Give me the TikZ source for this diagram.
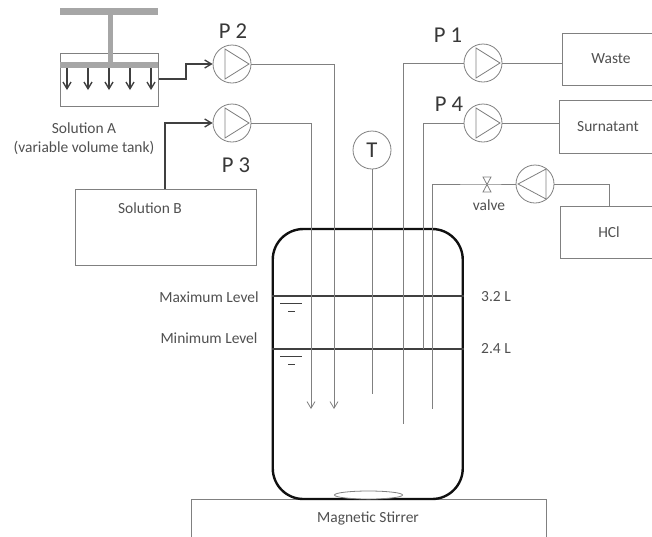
\documentclass[tikz,border=0pt]{standalone}
\usepackage{fontspec}
\setmainfont{Carlito}
\usetikzlibrary{arrows.meta, calc}
\tikzset{
  pipe/.style={draw=tubo, line width=0.6pt},
  feed/.style={draw=linha, line width=1pt},
  pump/.style={circle, draw=tubo, line width=0.6pt, fill=white, minimum size=28.5pt, inner sep=0pt},
  boxnode/.style={rectangle, draw=tubo, line width=0.6pt, inner sep=0pt},
  lbl/.style={text=texto, font=\fontsize{11.6}{13}\selectfont, inner sep=0pt},
  pumplbl/.style={text=texto!70!black, font=\fontsize{17}{19}\selectfont, inner sep=0pt},
  >={Straight Barb[length=5pt, width=6pt]}
}
\begin{document}
\begin{tikzpicture}[x=0.75pt, y=-0.75pt]
% --- CORES ---
\definecolor{tubo}{HTML}{808080}
\definecolor{linha}{HTML}{404040}
\definecolor{barra}{HTML}{A6A6A6}
\definecolor{texto}{HTML}{505050}
\definecolor{vaso}{HTML}{101010}
\useasboundingbox (0,0) rectangle (652,536);
\clip (0,0) rectangle (652,536);

% LAYER 1: Tanque A com embolo
\node[boxnode, minimum width=73.9pt, minimum height=39.75pt] (tankA) at (109.2,79.5) {};
\fill[barra] (60,8) rectangle (158,15);
\fill[barra] (107.5,15) rectangle (112.5,62);
\fill[barra] (60,62) rectangle (158,68);
\foreach \x in {67,88,109,130,151}
  \draw[feed, ->] (\x,68) -- (\x,90);

% LAYER 2: Caixas
\node[boxnode, minimum width=135.75pt, minimum height=57pt] (tankB) at (165.5,227) {};
\node[boxnode, minimum width=75pt, minimum height=39pt] (waste) at (612,59) {};
\node[boxnode, minimum width=78pt, minimum height=39.75pt] (surnatant) at (611,126.5) {};
\node[boxnode, minimum width=75pt, minimum height=39pt] (hcl) at (610,232) {};
\node[boxnode, minimum width=266.25pt, minimum height=37.5pt] (stirrer) at (368.5,524) {};

% LAYER 3: Bombas
\node[pump] (P1) at (483,63) {};
\node[pump] (P2) at (232,64) {};
\node[pump] (P3) at (232,123) {};
\node[pump] (P4) at (483,123) {};
\node[pump] (P5) at (535,184) {};
\node[pump, text=texto!70!black, font=\fontsize{17}{19}\selectfont] (T) at (372,150) {T};
\foreach \p in {P1,P2,P3,P4}
  \draw[pipe] ($(\p)+(-7,-15)$) -- ($(\p)+(17,0)$) -- ($(\p)+(-7,15)$) -- cycle;
\draw[pipe] ($(P5)+(11,-15)$) -- ($(P5)+(-17,0)$) -- ($(P5)+(11,15)$) -- cycle;

% LAYER 4: Vaso
\node[rectangle, draw=vaso, line width=1.8pt, rounded corners=23pt, minimum width=142.5pt, minimum height=202.5pt, inner sep=0pt] (vessel) at (367.75,364) {};
\draw[tubo, line width=0.6pt, fill=white] (368.5,495) ellipse (34 and 4);
\foreach \y in {296,349} {
  \draw[linha, line width=0.8pt] (vessel.west |- 0,\y) -- (vessel.east |- 0,\y);
  \draw[linha, line width=0.7pt] (280,\y+7.5) -- (302,\y+7.5);
  \draw[linha, line width=0.7pt] (288,\y+15.5) -- (295,\y+15.5);
}

% LAYER 5: Tubos
\coordinate (endP1) at (403,424);
\coordinate (endP2) at (334,409);
\coordinate (endP3) at (311,409);
\coordinate (endP4) at (423,349);
\coordinate (endP5) at (432,409);
\coordinate (endT) at (372,394);
\coordinate (valve) at (487,184);
\draw[feed, ->] (tankA.east |- 0,79) -- (186,79) -- (186,64) -- (P2.west);
\draw[feed, ->] (165,189) -- (165,123) -- (P3.west);
\draw[pipe, ->] (P2.east) -| (endP2);
\draw[pipe, ->] (P3.east) -| (endP3);
\draw[pipe] (P1.west) -| (endP1);
\draw[pipe] (P1.east) -- (P1.east -| waste.west);
\draw[pipe] (P4.west) -| (endP4);
\draw[pipe] (P4.east) -- (P4.east -| surnatant.west);
\draw[pipe] (P5.west) -- (valve) -| (endP5);
\draw[pipe] (P5.east) -| (609,206);
\draw[pipe] (T.south) -- (endT);
\draw[tubo, line width=0.6pt, fill=white] ($(valve)+(-4,-7)$) -- ($(valve)+(4,-7)$) -- ($(valve)+(-4,8)$) -- ($(valve)+(4,8)$) -- cycle;

% LAYER 6: Textos
\node[pumplbl] (lblP2) at (233,31) {P 2};
\node[pumplbl] (lblP3) at (236,165) {P 3};
\node[pumplbl] (lblP1) at (448,35) {P 1};
\node[pumplbl] (lblP4) at (449,104) {P 4};
\node[lbl] (lblA) at (84,128) {Solution A};
\node[lbl] (lblA2) at (84,148) {(variable volume tank)};
\node[lbl] (lblB) at (150,208) {Solution B};
\node[lbl] (lblW) at (611,59) {Waste};
\node[lbl] (lblS) at (608,127) {Surnatant};
\node[lbl] (lblH) at (609,232) {HCl};
\node[lbl] (lblV) at (489,205) {valve};
\node[lbl] (lblMax) at (209,297) {Maximum Level};
\node[lbl] (lblMin) at (209,338) {Minimum Level};
\node[lbl] (lbl32) at (496,297) {3.2 L};
\node[lbl] (lbl24) at (496,349) {2.4 L};
\node[lbl] (lblM) at (368,518) {Magnetic Stirrer};
\end{tikzpicture}
\end{document}
